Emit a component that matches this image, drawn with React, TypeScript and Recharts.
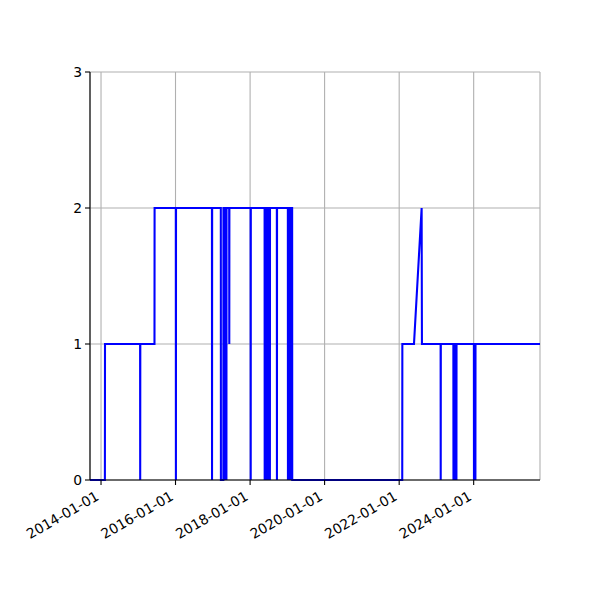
import { LineChart, Line, XAxis, YAxis, CartesianGrid } from 'recharts';

const dates = [
  '2013-09-15', '2014-02-08', '2014-02-09', '2015-01-19', '2015-01-20', '2015-01-21',
  '2015-06-09', '2015-06-10', '2016-01-04', '2016-01-05', '2016-01-06', '2016-12-23',
  '2016-12-24', '2016-12-25', '2017-03-20', '2017-03-21', '2017-04-14', '2017-04-15',
  '2017-04-30', '2017-05-01', '2017-05-02', '2017-05-13', '2017-05-14', '2017-05-15',
  '2017-06-10', '2017-06-11', '2017-06-12', '2018-01-06', '2018-01-07', '2018-01-08',
  '2018-05-23', '2018-05-24', '2018-05-25', '2018-06-10', '2018-06-11', '2018-06-12',
  '2018-06-27', '2018-06-28', '2018-06-29', '2018-07-13', '2018-07-14', '2018-07-15',
  '2018-09-20', '2018-09-21', '2018-09-22', '2019-01-06', '2019-01-07', '2019-01-08',
  '2019-01-20', '2019-01-21', '2019-01-22', '2019-02-04', '2019-02-05', '2019-02-06',
  '2019-02-17', '2019-02-18', '2022-01-31', '2022-02-01', '2022-05-26', '2022-08-09',
  '2022-08-12', '2023-02-11', '2023-02-12', '2023-02-13', '2023-06-16', '2023-06-17',
  '2023-06-18', '2023-06-30', '2023-07-01', '2023-07-02', '2023-07-15', '2023-07-16',
  '2023-07-17', '2024-01-03', '2024-01-04', '2024-01-05', '2024-01-17', '2024-01-18',
  '2024-01-19', '2025-10-12',
];

const counts = [
  0, 0, 1, 1, 0, 1,
  1, 2, 2, 0, 2, 2,
  0, 2, 2, 0, 0, 2,
  2, 0, 2, 2, 0, 2,
  2, 1, 2, 2, 0, 2,
  2, 0, 2, 2, 0, 2,
  2, 0, 2, 2, 0, 2,
  2, 0, 2, 2, 0, 2,
  2, 0, 2, 2, 0, 2,
  2, 0, 0, 1, 1, 2,
  1, 1, 0, 1, 1, 0,
  1, 1, 0, 1, 1, 0,
  1, 1, 0, 1, 1, 0,
  1, 1,
];

const tickDates = ['2014-01-01', '2016-01-01', '2018-01-01', '2020-01-01', '2022-01-01', '2024-01-01'];
const yTicks = [0, 1, 2, 3];

const data = dates.map((d, i) => ({ t: new Date(d).getTime(), v: counts[i] }));
const xTicks = tickDates.map((d) => new Date(d).getTime());
const xDomain = [data[0].t, data[data.length - 1].t];

const FONT = 'DejaVu Sans';

function DateTick(props: any) {
  const { x, y, payload } = props;
  const label = new Date(payload.value).toISOString().slice(0, 10);
  const tx = x - 1;
  const ty = y + 14;
  return (
    <text
      x={tx}
      y={ty}
      textAnchor="end"
      fontFamily={FONT}
      fontSize={13.9}
      fill="#000"
      transform={`rotate(-30, ${tx}, ${ty})`}
    >
      {label}
    </text>
  );
}

export default function App() {
  return (
    <div style={{ position: 'absolute', left: 0, top: 0, background: '#fff' }}>
      <LineChart
        width={600}
        height={600}
        data={data}
        margin={{ top: 72, right: 60, bottom: 0, left: 50 }}
      >
        <CartesianGrid stroke="#b0b0b0" strokeWidth={1.1} />
        <XAxis
          dataKey="t"
          type="number"
          domain={xDomain}
          ticks={xTicks}
          interval={0}
          height={120}
          tickSize={5}
          tickMargin={0}
          tick={<DateTick />}
          stroke="#000"
          strokeWidth={1.1}
          allowDataOverflow
        />
        <XAxis
          xAxisId="top"
          orientation="top"
          dataKey="t"
          type="number"
          domain={xDomain}
          height={0}
          tick={false}
          tickLine={false}
          stroke="#000"
          strokeWidth={1.1}
        />
        <YAxis
          domain={[0, 3]}
          ticks={yTicks}
          interval={0}
          width={40}
          tickSize={5}
          tickMargin={3}
          stroke="#000"
          strokeWidth={1.1}
          tick={{ fill: '#000', fontFamily: FONT, fontSize: 13.9 }}
        />
        <YAxis
          yAxisId="right"
          orientation="right"
          domain={[0, 3]}
          width={0}
          tick={false}
          tickLine={false}
          stroke="#000"
          strokeWidth={1.1}
        />
        <Line
          type="linear"
          dataKey="v"
          stroke="#0000ff"
          strokeWidth={2.08}
          dot={false}
          isAnimationActive={false}
        />
      </LineChart>
    </div>
  );
}
